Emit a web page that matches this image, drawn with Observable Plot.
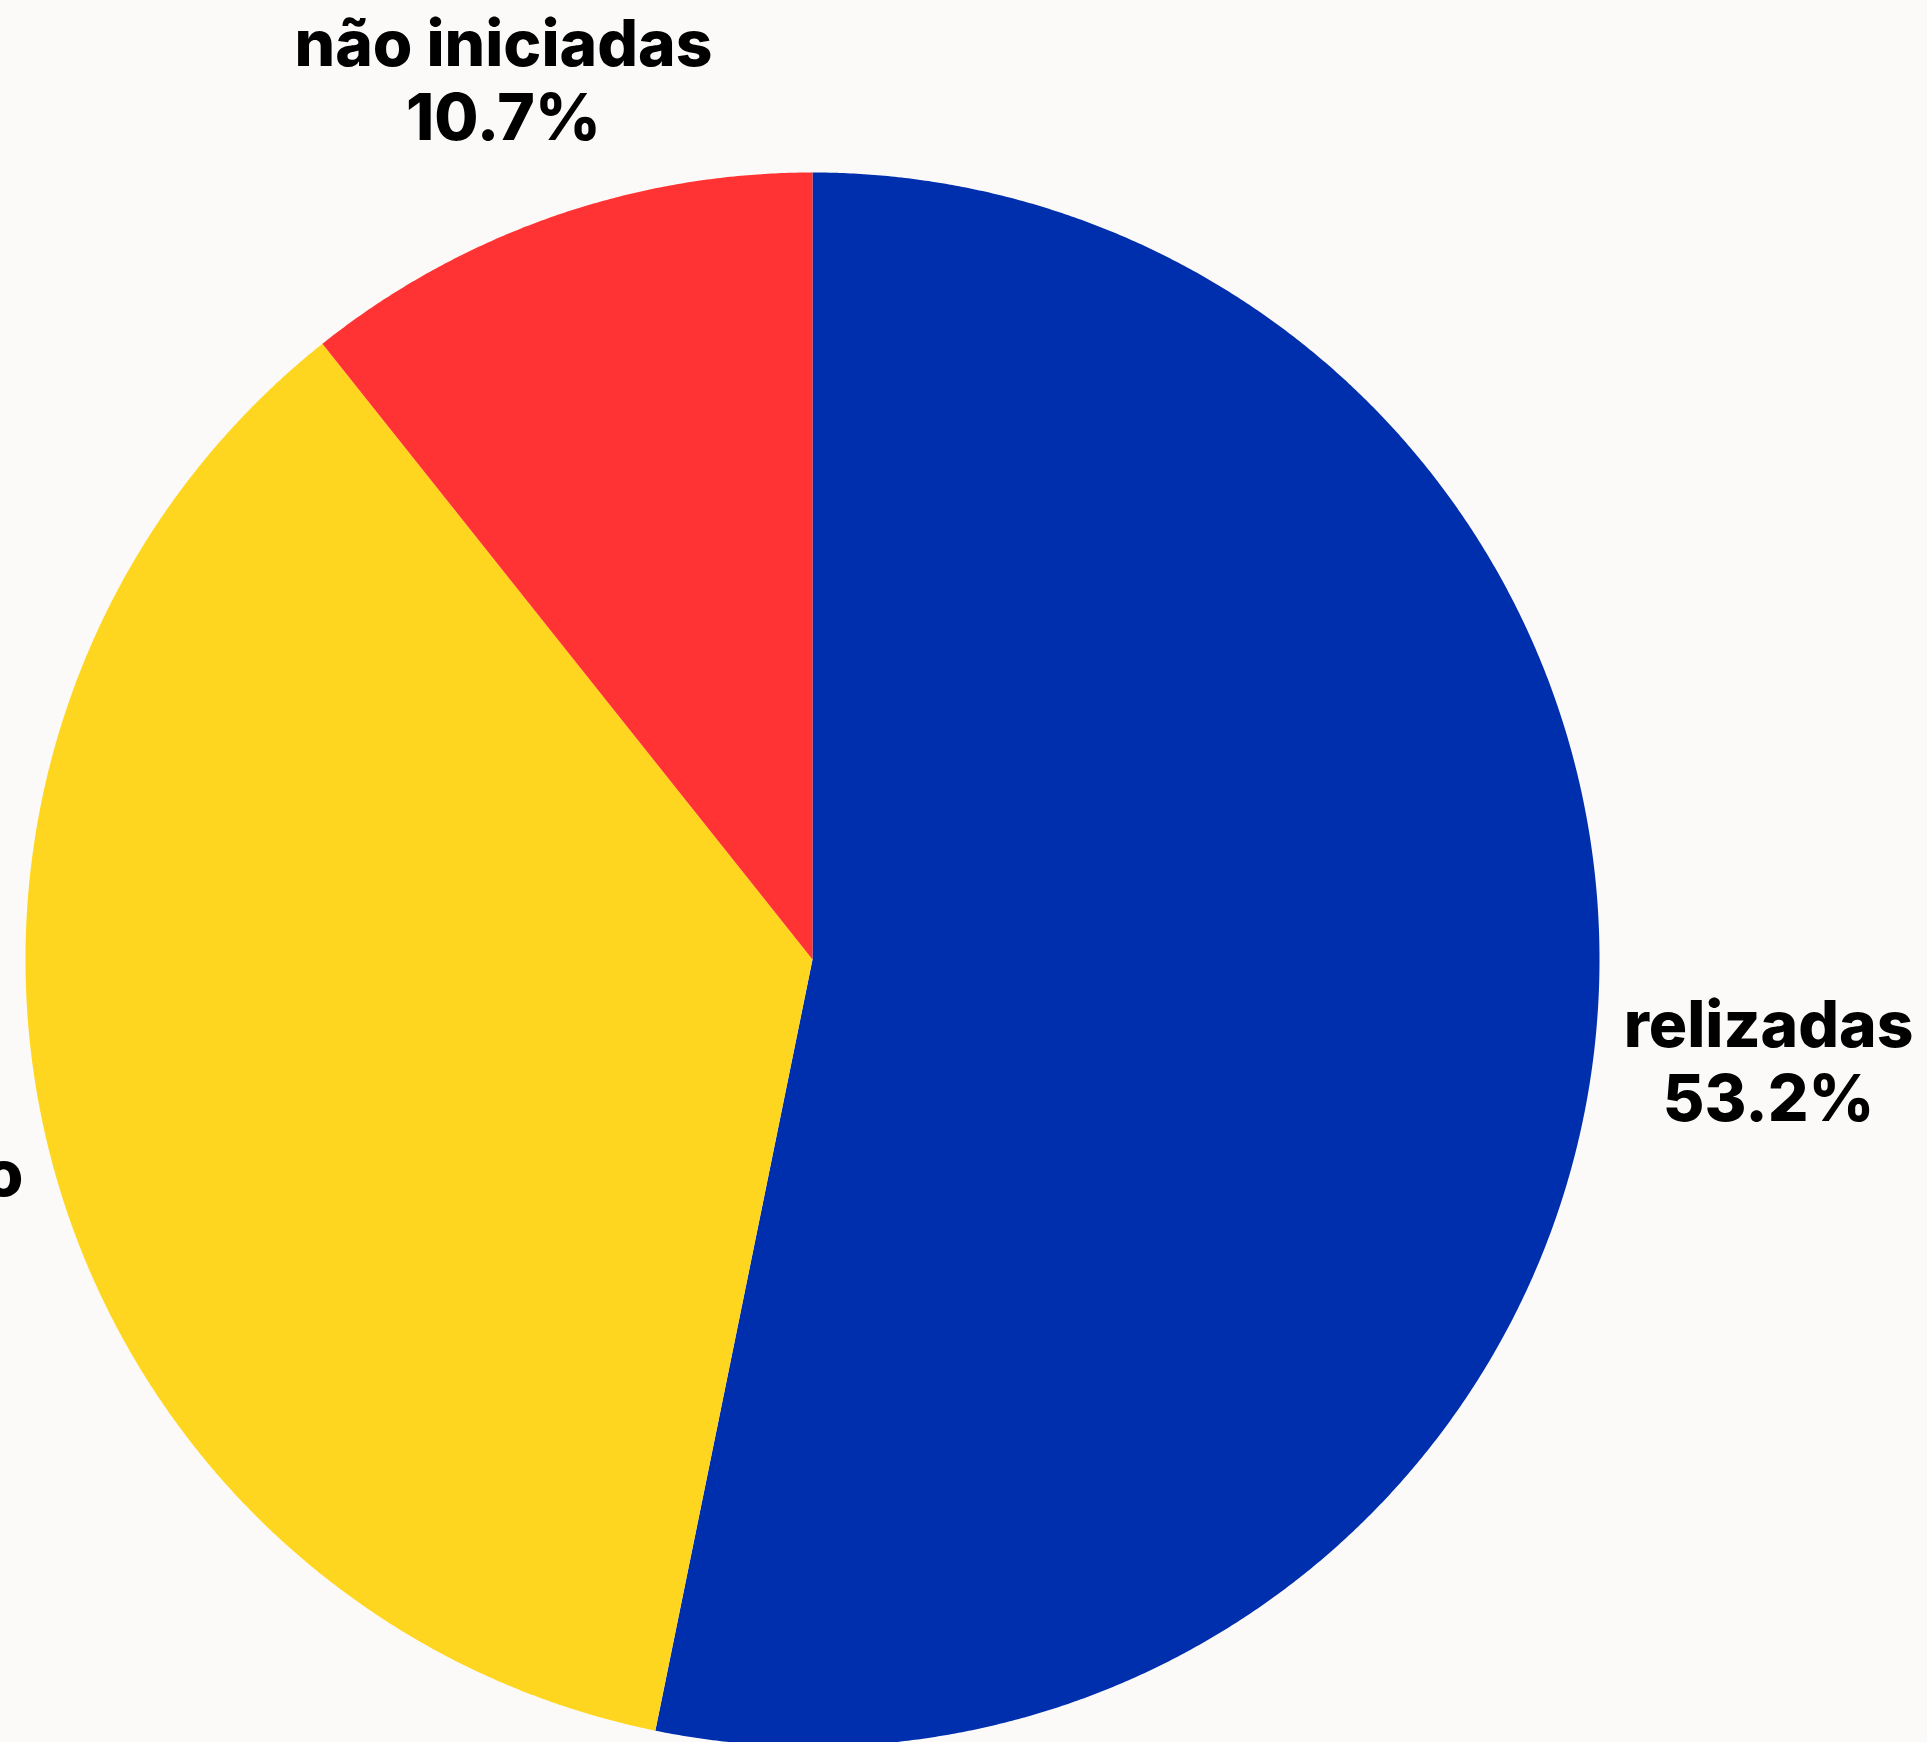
<!DOCTYPE html>
<html>
<head>
<meta charset="utf-8">
<script src="https://cdn.jsdelivr.net/npm/d3@7"></script>
<script src="https://cdn.jsdelivr.net/npm/@observablehq/plot@0.6"></script>
<style>
  html, body { margin: 0; padding: 0; background: #fbfaf9; }
  #chart { width: 1927px; height: 1742px; overflow: hidden; }
</style>
</head>
<body>
<div id="chart"></div>
<script>
const categories = ["relizadas", "em andamento", "não iniciadas"];
const values = [53.2, 36.1, 10.7];
const colors = ["#002fae", "#ffd61f", "#ff3333"];

const W = 1927, H = 1742;
const cx = 812, cy = 959, R = 787;
const fontFamily = "Inter, 'Noto Sans', sans-serif";
const fontSize = 64, fontWeight = 800, lineHeight = 1.16;
const labelGap = 1.03 * R;

const pie = d3.pie().sort(null).value(d => d.value);
const arcs = pie(categories.map((name, i) => ({name, value: values[i]})));

// polygon vertices for each slice (angles measured clockwise from top)
const pts = [];
for (const a of arcs) {
  const name = a.data.name;
  pts.push({name, x: 0, y: 0});
  const n = Math.max(2, Math.ceil((a.endAngle - a.startAngle) / (Math.PI / 720)));
  for (let k = 0; k <= n; k++) {
    const t = a.startAngle + (a.endAngle - a.startAngle) * k / n;
    pts.push({name, x: R * Math.sin(t), y: -R * Math.cos(t)});
  }
}

// measure label widths to place each label box just outside the pie
const ctx = document.createElement("canvas").getContext("2d");
ctx.font = `${fontWeight} ${fontSize}px ${fontFamily}`;
const halfH = fontSize * lineHeight * 0.82;

const labels = arcs.map(a => {
  const t = (a.startAngle + a.endAngle) / 2;
  const ux = Math.sin(t), uy = -Math.cos(t);
  const pct = `${a.data.value.toFixed(1)}%`;
  const halfW = Math.max(ctx.measureText(a.data.name).width, ctx.measureText(pct).width) / 2;
  const d = labelGap + halfW * Math.abs(ux) + halfH * Math.abs(uy);
  return {
    name: a.data.name,
    x: d * ux,
    y: d * uy,
    text: `${a.data.name}\n${pct}`
  };
});

const chart = Plot.plot({
  width: W,
  height: H,
  margin: 0,
  style: {background: "#fbfaf9", fontFamily},
  x: {type: "linear", domain: [-cx, W - cx], range: [0, W], axis: null},
  y: {type: "linear", domain: [-cy, H - cy], range: [0, H], axis: null},
  color: {domain: categories, range: colors},
  marks: [
    Plot.line(pts, {x: "x", y: "y", z: "name", fill: "name", stroke: "none", curve: "linear-closed"}),
    Plot.text(labels, {x: "x", y: "y", text: "text", fill: "black", fontSize, fontWeight,
      lineHeight, lineAnchor: "middle", textAnchor: "middle", dy: 4})
  ]
});
document.getElementById("chart").appendChild(chart);
</script>
</body>
</html>
